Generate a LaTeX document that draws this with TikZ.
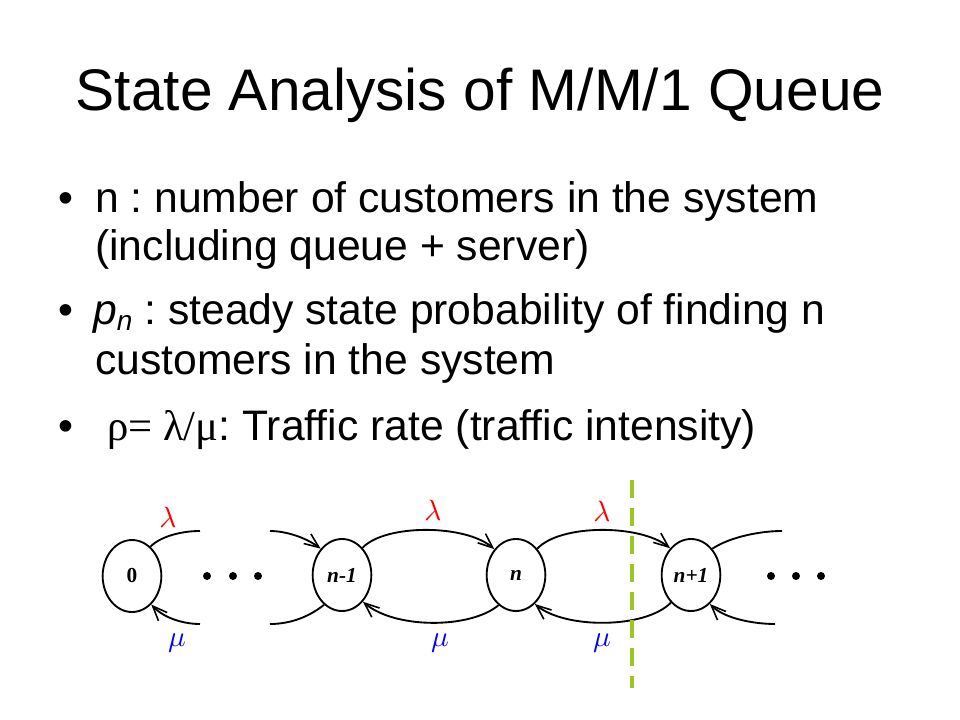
\documentclass[tikz,border=0pt]{standalone}
\usepackage{fontspec}
\usepackage{graphicx}
\setmainfont{Liberation Sans}
\newfontfamily\serifgr{Liberation Serif}
\usetikzlibrary{shapes.geometric,arrows.meta}
\definecolor{cutgreen}{RGB}{154,200,30}
\newcommand{\bigsym}[1]{\scalebox{2.2}{$#1$}}
\tikzset{
  body/.style={anchor=base west, inner sep=0pt, font=\fontsize{32}{38}\selectfont\frenchspacing},
  state/.style={ellipse, draw, line width=1.4pt, minimum width=44pt, minimum height=54pt, inner sep=0pt,
    font=\fontsize{16}{16}\selectfont\serifgr\bfseries\itshape},
  trans/.style={line width=1.4pt, -{Straight Barb[length=11pt,width=9pt,line width=1.2pt]}},
  stub/.style={line width=1.4pt},
  lam/.style={text=red, inner sep=0pt},
  mu/.style={text=blue, inner sep=0pt},
}
\begin{document}
\begin{tikzpicture}[x=0.75pt,y=-0.75pt]
\useasboundingbox (0,0) rectangle (960,720);

% title
\node[anchor=base, inner sep=0pt, font=\fontsize{44}{44}\selectfont] (title) at (480,111) {State Analysis of M/M/1 Queue};

% bullets
\node[body] (b1) at (58,213) {•};
\node[body] (t1) at (95,213) {n : number of customers in the system};
\node[body] (t2) at (95,261) {(including queue + server)};
\node[body] (b2) at (58,325) {•};
\node[body] (t3) at (93,325) {\textit{p}\raisebox{-4pt}{\fontsize{21}{21}\selectfont\itshape n} : steady state probability of finding n};
\node[body] (t4) at (95,374) {customers in the system};
\node[body] (b3) at (58,440) {•};
\node[body] (t5) at (107,440) {{\serifgr ρ= λ/μ}: Traffic rate (traffic intensity)};

% states
\node[state] (s0) at (132,576) {\upshape 0};
\node[state] (s1) at (342,575) {n-1};
\node[state] (s2) at (516,575) {n};
\node[state] (s3) at (691,575) {n+1};

% free ends
\coordinate (a0) at (200,531);
\coordinate (a1) at (270,531);
\coordinate (c0) at (200,624);
\coordinate (c1) at (270,624);
\coordinate (a3) at (782,531);
\coordinate (c3) at (775,624);

% dots
\foreach \x in {207,233,258,771,796,821} \fill (\x,576) circle[radius=3pt];

% stubs and arrows
\draw[stub] (s0.58) .. controls (160,537) and (180,531) .. (a0);
\draw[trans] (a1) .. controls (285,531) and (305,537) .. (s1.129);
\draw[trans] (c0) .. controls (185,624) and (165,619) .. (s0.304);
\draw[stub] (s1.239) .. controls (305,620) and (285,624) .. (c1);

\draw[trans] (s1.53) .. controls (385,524) and (465,524) .. (s2.130);
\draw[trans] (s2.240) .. controls (470,629) and (395,629) .. (s1.308);
\draw[trans] (s2.51) .. controls (560,524) and (640,524) .. (s3.128);
\draw[trans] (s3.234) .. controls (645,629) and (565,629) .. (s2.303);

\draw[stub] (s3.51) .. controls (730,537) and (760,531) .. (a3);
\draw[trans] (c3) .. controls (755,624) and (725,619) .. (s3.303);

% rate labels
\node[lam] (l1) at (168,517) {\bigsym{\lambda}};
\node[lam] (l2) at (433,510) {\bigsym{\lambda}};
\node[lam] (l3) at (602,511) {\bigsym{\lambda}};
\node[mu] (m1) at (177,643) {\bigsym{\mu}};
\node[mu] (m2) at (440,643) {\bigsym{\mu}};
\node[mu] (m3) at (602,643) {\bigsym{\mu}};

% cut line
\coordinate (g1) at (632,480);
\coordinate (g2) at (632,688);
\draw[cutgreen, line width=3pt, dash pattern=on 13.5pt off 7.5pt] (g1) -- (g2);
\end{tikzpicture}
\end{document}
